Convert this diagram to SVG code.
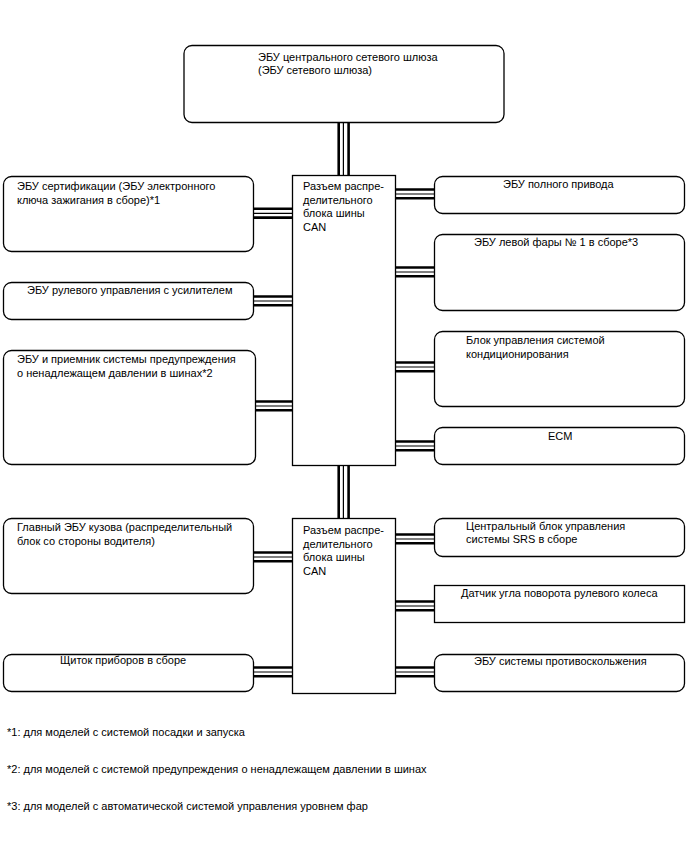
<svg xmlns="http://www.w3.org/2000/svg" width="688" height="852" viewBox="0 0 688 852">
<style>
.box{fill:#fff;stroke:#000;stroke-width:1.3}
.t{font-family:"Liberation Sans",Arial,sans-serif;font-size:11px;fill:#000}
.thk{stroke:#000;stroke-width:2.6;fill:none}
.thn{stroke:#000;stroke-width:1.2;fill:none}
</style>
<rect width="688" height="852" fill="#fff"/>
<g id="connectors">
<g><line class="thk" x1="338.7" y1="122" x2="338.7" y2="175"/><line class="thn" x1="343.4" y1="122" x2="343.4" y2="175"/><line class="thk" x1="348.6" y1="122" x2="348.6" y2="175"/></g>
<g><line class="thk" x1="338.7" y1="465" x2="338.7" y2="518"/><line class="thn" x1="343.4" y1="465" x2="343.4" y2="518"/><line class="thk" x1="348.6" y1="465" x2="348.6" y2="518"/></g>
<g><line class="thk" x1="253" y1="208.8" x2="293" y2="208.8"/><line class="thn" x1="253" y1="213.3" x2="293" y2="213.3"/><line class="thk" x1="253" y1="217.6" x2="293" y2="217.6"/></g>
<g><line class="thk" x1="253" y1="296.5" x2="293" y2="296.5"/><line class="thn" x1="253" y1="301" x2="293" y2="301"/><line class="thk" x1="253" y1="305.3" x2="293" y2="305.3"/></g>
<g><line class="thk" x1="255" y1="401.5" x2="293" y2="401.5"/><line class="thn" x1="255" y1="406" x2="293" y2="406"/><line class="thk" x1="255" y1="410.3" x2="293" y2="410.3"/></g>
<g><line class="thk" x1="253" y1="552.5" x2="293" y2="552.5"/><line class="thn" x1="253" y1="557" x2="293" y2="557"/><line class="thk" x1="253" y1="561.3" x2="293" y2="561.3"/></g>
<g><line class="thk" x1="253" y1="667.5" x2="293" y2="667.5"/><line class="thn" x1="253" y1="672" x2="293" y2="672"/><line class="thk" x1="253" y1="676.3" x2="293" y2="676.3"/></g>
<g><line class="thk" x1="396" y1="189.5" x2="434" y2="189.5"/><line class="thn" x1="396" y1="194" x2="434" y2="194"/><line class="thk" x1="396" y1="198.3" x2="434" y2="198.3"/></g>
<g><line class="thk" x1="396" y1="267.5" x2="434" y2="267.5"/><line class="thn" x1="396" y1="272" x2="434" y2="272"/><line class="thk" x1="396" y1="276.3" x2="434" y2="276.3"/></g>
<g><line class="thk" x1="396" y1="362.5" x2="434" y2="362.5"/><line class="thn" x1="396" y1="367" x2="434" y2="367"/><line class="thk" x1="396" y1="371.3" x2="434" y2="371.3"/></g>
<g><line class="thk" x1="396" y1="441.5" x2="434" y2="441.5"/><line class="thn" x1="396" y1="446" x2="434" y2="446"/><line class="thk" x1="396" y1="450.3" x2="434" y2="450.3"/></g>
<g><line class="thk" x1="396" y1="534.5" x2="434" y2="534.5"/><line class="thn" x1="396" y1="539" x2="434" y2="539"/><line class="thk" x1="396" y1="543.3" x2="434" y2="543.3"/></g>
<g><line class="thk" x1="396" y1="601.5" x2="434" y2="601.5"/><line class="thn" x1="396" y1="606" x2="434" y2="606"/><line class="thk" x1="396" y1="610.3" x2="434" y2="610.3"/></g>
<g><line class="thk" x1="396" y1="667.5" x2="434" y2="667.5"/><line class="thn" x1="396" y1="672" x2="434" y2="672"/><line class="thk" x1="396" y1="676.3" x2="434" y2="676.3"/></g>
</g>
<g id="gateway">
<rect class="box" x="184" y="45.5" width="320" height="77" rx="8"/>
<text class="t" x="258" y="61">ЭБУ центрального сетевого шлюза</text>
<text class="t" x="258" y="74">(ЭБУ сетевого шлюза)</text>
</g>
<g id="junction1">
<rect class="box" x="292.5" y="175.5" width="103" height="290"/>
<text class="t" x="303" y="190">Разъем распре-</text>
<text class="t" x="303" y="203.5">делительного</text>
<text class="t" x="303" y="217">блока шины</text>
<text class="t" x="303" y="230.5">CAN</text>
</g>
<g id="junction2">
<rect class="box" x="292.5" y="518.5" width="103" height="175"/>
<text class="t" x="303" y="534">Разъем распре-</text>
<text class="t" x="303" y="547.5">делительного</text>
<text class="t" x="303" y="561">блока шины</text>
<text class="t" x="303" y="574.5">CAN</text>
</g>
<g id="cert">
<rect class="box" x="3.5" y="176.5" width="250" height="75" rx="8"/>
<text class="t" x="17" y="190">ЭБУ сертификации (ЭБУ электронного</text>
<text class="t" x="17" y="203.5">ключа зажигания в сборе)*1</text>
</g>
<g id="eps">
<rect class="box" x="3.5" y="282.5" width="250" height="37" rx="8"/>
<text class="t" x="27" y="294">ЭБУ рулевого управления с усилителем</text>
</g>
<g id="tpms">
<rect class="box" x="3.5" y="350.5" width="252" height="114" rx="8"/>
<text class="t" x="17" y="363">ЭБУ и приемник системы предупреждения</text>
<text class="t" x="17" y="376.5">о ненадлежащем давлении в шинах*2</text>
</g>
<g id="body">
<rect class="box" x="3.5" y="518.5" width="250" height="75" rx="8"/>
<text class="t" x="17" y="531">Главный ЭБУ кузова (распределительный</text>
<text class="t" x="17" y="544.5">блок со стороны водителя)</text>
</g>
<g id="meter">
<rect class="box" x="3.5" y="654.5" width="250" height="37" rx="8"/>
<text class="t" x="60" y="664">Щиток приборов в сборе</text>
</g>
<g id="awd">
<rect class="box" x="434.5" y="176.5" width="250" height="37" rx="8"/>
<text class="t" x="503" y="188">ЭБУ полного привода</text>
</g>
<g id="headlight">
<rect class="box" x="434.5" y="234.5" width="250" height="76" rx="8"/>
<text class="t" x="474" y="246">ЭБУ левой фары № 1 в сборе*3</text>
</g>
<g id="ac">
<rect class="box" x="434.5" y="331.5" width="250" height="75" rx="8"/>
<text class="t" x="466" y="344">Блок управления системой</text>
<text class="t" x="466" y="357.5">кондиционирования</text>
</g>
<g id="ecm">
<rect class="box" x="434.5" y="427.5" width="250" height="37" rx="8"/>
<text class="t" x="548" y="440">ECM</text>
</g>
<g id="srs">
<rect class="box" x="434.5" y="518.5" width="250" height="38" rx="8"/>
<text class="t" x="466" y="529.5">Центральный блок управления</text>
<text class="t" x="466" y="543">системы SRS в сборе</text>
</g>
<g id="steer">
<rect class="box" x="434.5" y="585.5" width="250" height="37"/>
<text class="t" x="461" y="596.5">Датчик угла поворота рулевого колеса</text>
</g>
<g id="abs">
<rect class="box" x="434.5" y="654.5" width="250" height="37" rx="8"/>
<text class="t" x="474" y="665">ЭБУ системы противоскольжения</text>
</g>
<g id="notes">
<text class="t" x="7" y="735.5">*1: для моделей с системой посадки и запуска</text>
<text class="t" x="7" y="773">*2: для моделей с системой предупреждения о ненадлежащем давлении в шинах</text>
<text class="t" x="7" y="810">*3: для моделей с автоматической системой управления уровнем фар</text>
</g>
</svg>
